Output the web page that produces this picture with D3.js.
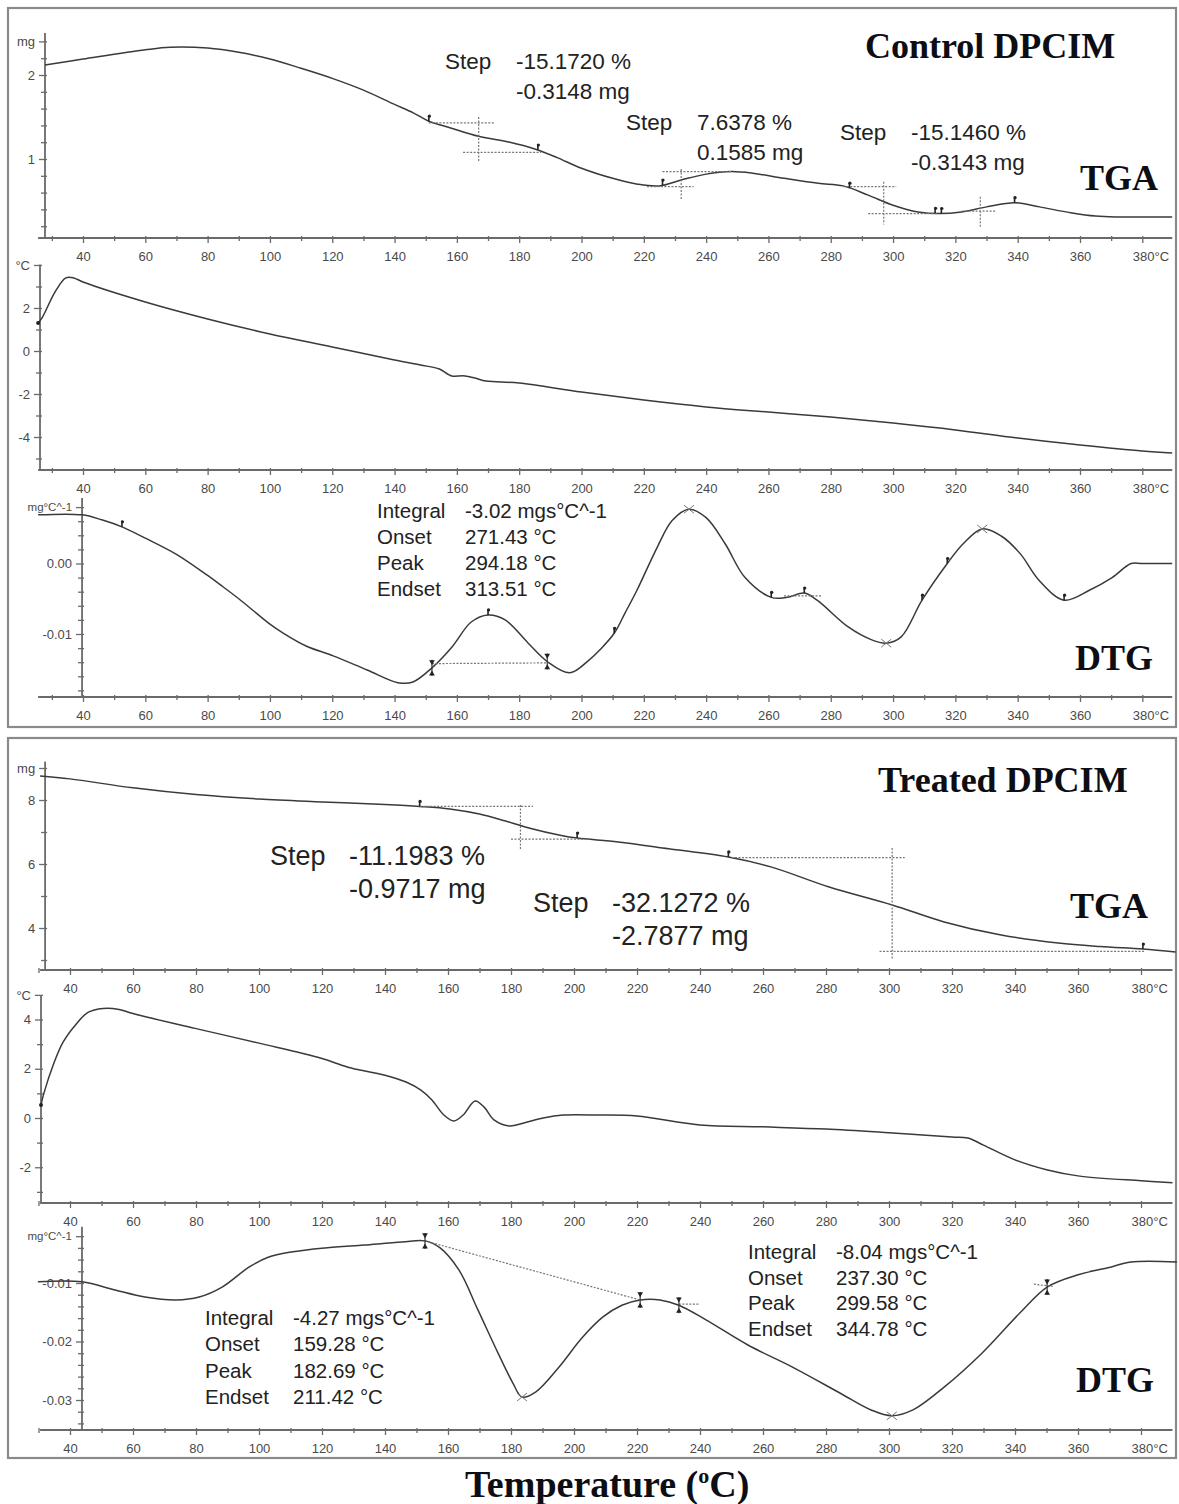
<!DOCTYPE html>
<html><head><meta charset="utf-8">
<script src="https://cdn.jsdelivr.net/npm/d3@7"></script>
<style>
body{margin:0;background:#fff}
svg text{font-family:"Liberation Sans",Arial,sans-serif}
</style>
</head><body>
<svg id="c" width="1179" height="1504"></svg>
<script>
// ===================== DATA =====================
// x-axis ticks (°C)
const xMajorTicks = [40,60,80,100,120,140,160,180,200,220,240,260,280,300,320,340,360,380];
const xMinorTicks = [30,50,70,90,110,130,150,170,190,210,230,250,270,290,310,330,350,370];

// Control DPCIM – TGA (°C, mg)
const ctrlTGA = [[27.8,2.12],[40,2.19],[60,2.30],[68,2.33],[80,2.32],[90,2.27],[100,2.19],[110,2.08],[120,1.96],[130,1.82],[140,1.65],[146,1.55],[151,1.45],[158,1.37],[167,1.27],[177,1.20],[185,1.12],[192,1.02],[200,0.89],[210,0.77],[218,0.70],[225,0.68],[232,0.75],[240,0.82],[248,0.85],[255,0.83],[265,0.77],[276,0.71],[284,0.68],[292,0.57],[300,0.45],[308,0.37],[315,0.35],[322,0.37],[330,0.43],[339,0.48],[347,0.43],[357,0.36],[365,0.32],[373,0.31],[389.6,0.31]];
// Control DPCIM – DTA (°C, °C)
const ctrlDTA = [[25.6,1.30],[27,1.58],[31,2.74],[34.5,3.40],[37,3.40],[40,3.21],[60,2.28],[80,1.49],[100,0.79],[120,0.19],[140,-0.42],[148.3,-0.65],[154.4,-0.84],[157,-1.07],[158.4,-1.16],[162.6,-1.16],[165.8,-1.26],[169.4,-1.40],[180,-1.49],[200,-1.91],[220,-2.28],[240,-2.60],[260,-2.84],[280,-3.07],[300,-3.35],[320,-3.67],[340,-4.05],[360,-4.37],[380,-4.65],[389.6,-4.74]];
// Control DPCIM – DTG (°C, mg/°C)
const ctrlDTG = [[25.6,0.0069],[39.7,0.0069],[46,0.0062],[52.5,0.0052],[60,0.0036],[70,0.0013],[80,-0.0017],[84,-0.0030],[90,-0.0050],[100,-0.0086],[104,-0.0098],[111.6,-0.0117],[120.3,-0.0131],[131.2,-0.0151],[141.1,-0.0169],[145.9,-0.0168],[152,-0.0148],[158.5,-0.0118],[164.6,-0.0083],[170,-0.0073],[175.5,-0.0080],[182.9,-0.0113],[189,-0.0139],[196.3,-0.0155],[202.4,-0.0137],[206,-0.0122],[210.5,-0.0099],[214,-0.0070],[217.8,-0.0038],[224.3,0.0023],[229.1,0.0061],[234.5,0.0077],[240,0.0065],[246.1,0.0028],[252.5,-0.0020],[260.9,-0.0048],[266,-0.0048],[271.5,-0.0042],[275.6,-0.0052],[285.6,-0.0090],[293,-0.0108],[297.8,-0.0113],[302.6,-0.0104],[309.3,-0.0052],[317.4,0.0000],[322.5,0.0028],[328.6,0.0049],[334.7,0.0039],[340.8,0.0014],[346.9,-0.0024],[354.9,-0.0052],[363,-0.0038],[370.3,-0.0020],[376.4,0.0000],[380,0.0000],[389.6,0.0000]];

// Treated DPCIM – TGA
const trtTGA = [[30.5,8.75],[40,8.66],[60,8.38],[80,8.17],[100,8.03],[120,7.94],[140,7.86],[151,7.80],[160.6,7.72],[170,7.56],[178,7.35],[186,7.12],[195.6,6.90],[201,6.81],[214,6.69],[230,6.48],[249,6.22],[262.5,5.91],[281,5.28],[301,4.72],[317.5,4.19],[335.6,3.78],[353.7,3.53],[367,3.42],[380.6,3.34],[391,3.25]];
// Treated DPCIM – DTA
const trtDTA = [[30.8,0.53],[31.7,1.0],[34.9,2.23],[37.8,3.08],[42.2,3.85],[45.7,4.29],[50.5,4.45],[55.6,4.41],[59.7,4.25],[79.7,3.64],[100,3.04],[119.7,2.43],[128.3,2.06],[130.8,1.98],[140,1.74],[146.7,1.46],[151.4,1.13],[154.9,0.73],[158.7,0.12],[161.9,-0.12],[164.8,0.12],[168.6,0.69],[171.4,0.45],[174.6,-0.08],[179.4,-0.32],[184.1,-0.20],[190.2,0.0],[196.5,0.12],[208,0.12],[220,0.08],[240,-0.28],[260,-0.36],[280,-0.45],[300,-0.60],[320,-0.77],[325,-0.81],[330,-1.10],[340,-1.70],[350,-2.10],[360,-2.35],[380,-2.55],[390,-2.63]];
// Treated DPCIM – DTG
const trtDTG = [[29.8,-0.0098],[43.8,-0.0098],[54.3,-0.0112],[63.8,-0.0124],[73.7,-0.0129],[81,-0.0124],[88.3,-0.0107],[96.8,-0.0073],[102.9,-0.0056],[110.2,-0.0047],[121,-0.0040],[133.3,-0.0035],[145.4,-0.0030],[152.7,-0.0028],[157.5,-0.0040],[163.5,-0.0078],[169.5,-0.0146],[175.9,-0.0220],[180.6,-0.0271],[183.5,-0.0295],[187.9,-0.0286],[195.2,-0.0244],[202.5,-0.0194],[209.2,-0.0158],[215.2,-0.0138],[221,-0.0129],[227.3,-0.0129],[233.3,-0.0138],[241.9,-0.0163],[255.2,-0.0206],[269.8,-0.0245],[284.4,-0.0288],[294.3,-0.0317],[300.9,-0.0327],[307.6,-0.0317],[317.5,-0.0278],[329.5,-0.0220],[341.6,-0.0151],[350.2,-0.0107],[360,-0.0086],[369.5,-0.0074],[376.8,-0.0064],[391.4,-0.0064]];

// y tick labels
const ctrlTgaYLabels = [1,2];
const ctrlDtaYLabels = [-4,-2,0,2];
const ctrlDtgYLabels = [-0.01,0];
const trtTgaYLabels = [4,6,8];
const trtDtaYLabels = [-2,0,2,4];
const trtDtgYLabels = [-0.03,-0.02,-0.01];

// evaluation markers (temperature of each marker)
const ctrlTgaMarks = [151,186,226,286,313.5,315.5,339];
const ctrlDtgCross = [234.5,297.8,328.6];
const ctrlDtgTicks = [52.5,170,210.5,260.9,271.5,309.3,317.4,354.9];
const ctrlDtgDouble = [152,189];
const trtTgaMarks = [151,201,249,380.6];
const trtDtgCross = [183.5,300.9];
const trtDtgDouble = [152.7,221,233.3,350.2];

// step-evaluation crosshairs: [T of vertical, top, bottom, [[level,T1,T2],...]]
const ctrlSteps = [
  [167,1.50,0.96,[[1.43,151,172],[1.08,162,187]]],
  [232,0.88,0.52,[[0.85,226,248],[0.67,221,236]]],
  [297,0.73,0.22,[[0.67,284,301],[0.35,292,314]]],
  [328,0.55,0.19,[[0.38,322,333]]]
];
const trtSteps = [
  [183,7.84,6.45,[[7.80,151,187],[6.78,180,205]]],
  [301,6.50,3.00,[[6.20,250,305],[3.27,297,381]]]
];
// DTG baselines [T1,v1,T2,v2]
const ctrlDtgBase = [[152,-0.0142,189,-0.0141],[265,-0.0046,277,-0.0046]];
const trtDtgBase = [[152.7,-0.0028,221,-0.0129],[233.3,-0.0136,240,-0.0136],[346,-0.0102,352,-0.0106]];

// text annotations
const ctrlStepText = [["Step","-15.1720 %","-0.3148 mg"],["Step","7.6378 %","0.1585 mg"],["Step","-15.1460 %","-0.3143 mg"]];
const ctrlDtgText = [["Integral","-3.02 mgs°C^-1"],["Onset","271.43 °C"],["Peak","294.18 °C"],["Endset","313.51 °C"]];
const trtStepText = [["Step","-11.1983 %","-0.9717 mg"],["Step","-32.1272 %","-2.7877 mg"]];
const trtDtgTextA = [["Integral","-4.27 mgs°C^-1"],["Onset","159.28 °C"],["Peak","182.69 °C"],["Endset","211.42 °C"]];
const trtDtgTextB = [["Integral","-8.04 mgs°C^-1"],["Onset","237.30 °C"],["Peak","299.58 °C"],["Endset","344.78 °C"]];

// ===================== DRAWING =====================
const svg = d3.select("#c");
svg.append("rect").attr("width",1179).attr("height",1504).attr("fill","#fff");

const near = (a,b)=>Math.abs(a-b)<1e-9;
const fmtInt = d => String(Math.round(d)).replace("\u2212","-");
const fmt2 = d => (Math.abs(d)<1e-12 ? "0.00" : d.toFixed(2));

const xCtrl = d3.scaleLinear().domain([40,360]).range([83,1080]);
const xTrt  = d3.scaleLinear().domain([40,360]).range([70,1078]);

// frames
[[8,8,1176,727],[8,738,1176,1458]].forEach(f=>{
  svg.append("rect").attr("x",f[0]).attr("y",f[1]).attr("width",f[2]-f[0]).attr("height",f[3]-f[1])
    .attr("fill","none").attr("stroke","#8a8a8a").attr("stroke-width",2.2);
});

function valAt(data,T){
  for(let i=0;i<data.length-1;i++){
    const a=data[i],b=data[i+1];
    if(T>=a[0]&&T<=b[0]) return a[1]+(b[1]-a[1])*(T-a[0])/(b[0]-a[0]);
  }
  return T<data[0][0]?data[0][1]:data[data.length-1][1];
}

const panels = [
  {x:xCtrl,data:ctrlTGA,yDom:[1,2],yRng:[159,75],axisY:238,xs:25.6,xe:389.6,spineT:27.8,yTop:2.5,yTicks:d3.range(0.2,2.41,0.2),yLab:ctrlTgaYLabels,unit:"mg",unitAt:2.4,fmt:fmtInt},
  {x:xCtrl,data:ctrlDTA,yDom:[0,2],yRng:[351,308],axisY:470,xs:25.6,xe:389.6,spineT:26.2,yTop:4.02,yTicks:d3.range(-5,4.01,1),yLab:ctrlDtaYLabels,unit:"°C",unitAt:4,fmt:fmtInt},
  {x:xCtrl,data:ctrlDTG,yDom:[0,-0.01],yRng:[563.5,634],axisY:697,xs:25.6,xe:389.6,spineT:39.7,yTop:0.0093,yTicks:d3.range(-0.018,0.0081,0.002),yLab:ctrlDtgYLabels,unit:"mg°C^-1",unitAt:0.008,fmt:fmt2},
  {x:xTrt,data:trtTGA,yDom:[8,4],yRng:[800,928],axisY:970,xs:30.5,xe:390,spineT:32.1,yTop:9.2,yTicks:d3.range(3,9.01,1),yLab:trtTgaYLabels,unit:"mg",unitAt:9,fmt:fmtInt},
  {x:xTrt,data:trtDTA,yDom:[0,4],yRng:[1118,1019.5],axisY:1203,xs:30.5,xe:390,spineT:30.8,yTop:5.0,yTicks:d3.range(-3,5.01,1),yLab:trtDtaYLabels,unit:"°C",unitAt:5,fmt:fmtInt},
  {x:xTrt,data:trtDTG,yDom:[-0.01,-0.03],yRng:[1283,1400],axisY:1430,xs:30.5,xe:390,spineT:43.8,yTop:-0.0004,yTicks:d3.range(-0.034,-0.0019,0.002),yLab:trtDtgYLabels,unit:"mg°C^-1",unitAt:-0.002,fmt:fmt2}
];

const AX="#6a6a6a", TXT="#4a4a4a", CURVE="#3a3a3a";
panels.forEach(p=>{
  const x=p.x;
  const y=d3.scaleLinear().domain(p.yDom).range(p.yRng);
  p.y=y;
  const g=svg.append("g");
  // x axis
  const xAxis=d3.axisBottom(x).tickValues(xMinorTicks.concat(xMajorTicks)).tickSize(5).tickSizeOuter(0)
    .tickFormat(d=>xMajorTicks.includes(d)?(d===380?"380°C":String(d)):"");
  const gx=g.append("g").attr("transform",`translate(0,${p.axisY})`).call(xAxis);
  gx.select(".domain").remove();
  gx.selectAll(".tick line").attr("y1",-2).attr("y2",d=>xMajorTicks.includes(d)?5:3).attr("stroke",AX).attr("stroke-width",1.3);
  gx.selectAll(".tick text").attr("y",14).attr("fill",TXT).style("font-size","13px").style("font-family","Liberation Sans, Arial, sans-serif");
  gx.selectAll(".tick text").filter(d=>d===380).attr("text-anchor","start").attr("x",-10);
  g.append("line").attr("x1",x(p.xs)).attr("x2",x(p.xe)).attr("y1",p.axisY).attr("y2",p.axisY)
    .attr("stroke",AX).attr("stroke-width",1.8);
  // y axis
  const yAxis=d3.axisLeft(y).tickValues(p.yTicks).tickSize(5).tickPadding(5)
    .tickFormat(d=>near(d,p.unitAt)?p.unit:(p.yLab.some(v=>near(v,d))?p.fmt(d):""));
  const gy=g.append("g").attr("transform",`translate(${x(p.spineT)},0)`).call(yAxis);
  gy.select(".domain").remove();
  gy.selectAll(".tick line").attr("x1",2).attr("x2",d=>(p.yLab.some(v=>near(v,d))||near(d,p.unitAt))?-6:-4).attr("stroke",AX).attr("stroke-width",1.3);
  gy.selectAll(".tick text").attr("fill",TXT).style("font-size","13px").style("font-family","Liberation Sans, Arial, sans-serif");
  gy.selectAll(".tick text").filter(d=>near(d,p.unitAt)&&p.unit.length>2).style("font-size","11.5px");
  g.append("line").attr("x1",x(p.spineT)).attr("x2",x(p.spineT)).attr("y1",y(p.yTop)).attr("y2",p.axisY)
    .attr("stroke",AX).attr("stroke-width",1.8);
  // curve
  const line=d3.line().x(d=>x(d[0])).y(d=>y(d[1])).curve(d3.curveCatmullRom.alpha(0.5));
  g.append("path").datum(p.data).attr("d",line).attr("fill","none").attr("stroke",CURVE).attr("stroke-width",1.5);
});

const [pCT,pCA,pCG,pTT,pTA,pTG]=panels;
const dotted = (g,x1,y1,x2,y2)=>g.append("line").attr("x1",x1).attr("y1",y1).attr("x2",x2).attr("y2",y2)
  .attr("stroke","#777").attr("stroke-width",1.2).attr("stroke-dasharray","2,1.5");

function drawSteps(p,steps){
  const g=svg.append("g");
  steps.forEach(s=>{
    dotted(g,p.x(s[0]),p.y(s[1]),p.x(s[0]),p.y(s[2]));
    s[3].forEach(h=>dotted(g,p.x(h[1]),p.y(h[0]),p.x(h[2]),p.y(h[0])));
  });
}
drawSteps(pCT,ctrlSteps);
drawSteps(pTT,trtSteps);

function drawBase(p,segs){
  const g=svg.append("g");
  segs.forEach(s=>dotted(g,p.x(s[0]),p.y(s[1]),p.x(s[2]),p.y(s[3])));
}
drawBase(pCG,ctrlDtgBase);
drawBase(pTG,trtDtgBase);

function tickMarks(p,Ts){
  const g=svg.append("g");
  Ts.forEach(T=>{
    const cx=p.x(T), cy=p.y(valAt(p.data,T));
    g.append("line").attr("x1",cx).attr("x2",cx).attr("y1",cy-6).attr("y2",cy).attr("stroke","#222").attr("stroke-width",1.6);
    g.append("circle").attr("cx",cx+0.5).attr("cy",cy-5).attr("r",1.6).attr("fill","#222");
  });
}
function crossMarks(p,Ts){
  const g=svg.append("g");
  Ts.forEach(T=>{
    const cx=p.x(T), cy=p.y(valAt(p.data,T));
    g.append("path").attr("d",`M${cx-5},${cy-4}L${cx+5},${cy+4}M${cx-5},${cy+4}L${cx+5},${cy-4}`)
      .attr("stroke","#777").attr("stroke-width",1);
  });
}
function doubleMarks(p,Ts){
  const g=svg.append("g");
  Ts.forEach(T=>{
    const cx=p.x(T), cy=p.y(valAt(p.data,T));
    g.append("line").attr("x1",cx).attr("x2",cx).attr("y1",cy-8).attr("y2",cy+8).attr("stroke","#333").attr("stroke-width",1.2);
    g.append("path").attr("d",d3.symbol(d3.symbolTriangle,14)()).attr("transform",`translate(${cx},${cy-6}) rotate(180)`).attr("fill","#222");
    g.append("path").attr("d",d3.symbol(d3.symbolTriangle,14)()).attr("transform",`translate(${cx},${cy+6})`).attr("fill","#222");
  });
}
tickMarks(pCT,ctrlTgaMarks);
tickMarks(pCG,ctrlDtgTicks);
crossMarks(pCG,ctrlDtgCross);
doubleMarks(pCG,ctrlDtgDouble);
tickMarks(pTT,trtTgaMarks);
crossMarks(pTG,trtDtgCross);
doubleMarks(pTG,trtDtgDouble);
// DTA start dots
[[pCA,ctrlDTA],[pTA,trtDTA]].forEach(([p,d])=>{
  svg.append("circle").attr("cx",p.x(d[0][0])).attr("cy",p.y(d[0][1])).attr("r",2).attr("fill","#222");
});

// ===================== TEXT =====================
const ann=svg.append("g").attr("fill","#222");
function stepBlock(rows,pos,size,colDx,lineDy){
  rows.forEach((r,i)=>{
    const [x0,y0]=pos[i];
    ann.append("text").attr("x",x0).attr("y",y0).text(r[0]).style("font-size",size+"px");
    ann.append("text").attr("x",x0+colDx).attr("y",y0).text(r[1]).style("font-size",size+"px");
    ann.append("text").attr("x",x0+colDx).attr("y",y0+lineDy).text(r[2]).style("font-size",size+"px");
  });
}
stepBlock(ctrlStepText,[[445,69],[626,130],[840,140]],22.5,71,30);
stepBlock(trtStepText,[[270,865],[533,912]],27,79,33);

function infoBlock(rows,x0,y0,size,colDx,lineDy){
  rows.forEach((r,i)=>{
    ann.append("text").attr("x",x0).attr("y",y0+i*lineDy).text(r[0]).style("font-size",size+"px");
    ann.append("text").attr("x",x0+colDx).attr("y",y0+i*lineDy).text(r[1]).style("font-size",size+"px");
  });
}
infoBlock(ctrlDtgText,377,518,20.5,88,26);
infoBlock(trtDtgTextA,205,1325,20.5,88,26.3);
infoBlock(trtDtgTextB,748,1259,20.5,88,25.5);

const serif = "Liberation Serif, Times New Roman, serif";
const titles=[["Control DPCIM",865,58,36],["TGA",1080,190,36],["DTG",1075,670,36],
              ["Treated DPCIM",878,792,36],["TGA",1070,918,36],["DTG",1076,1392,36]];
titles.forEach(t=>{
  svg.append("text").attr("x",t[1]).attr("y",t[2]).text(t[0])
    .style("font-family",serif).style("font-weight","bold").style("font-size",t[3]+"px").attr("fill","#0d0d14");
});
const xt=svg.append("text").attr("x",465).attr("y",1497).style("font-family",serif).style("font-weight","bold")
  .style("font-size","38px").attr("fill","#0d0d14");
xt.append("tspan").text("Temperature (");
xt.append("tspan").text("o").attr("dy",-14).style("font-size","22px");
xt.append("tspan").text("C)").attr("dy",14);
</script>
</body></html>
